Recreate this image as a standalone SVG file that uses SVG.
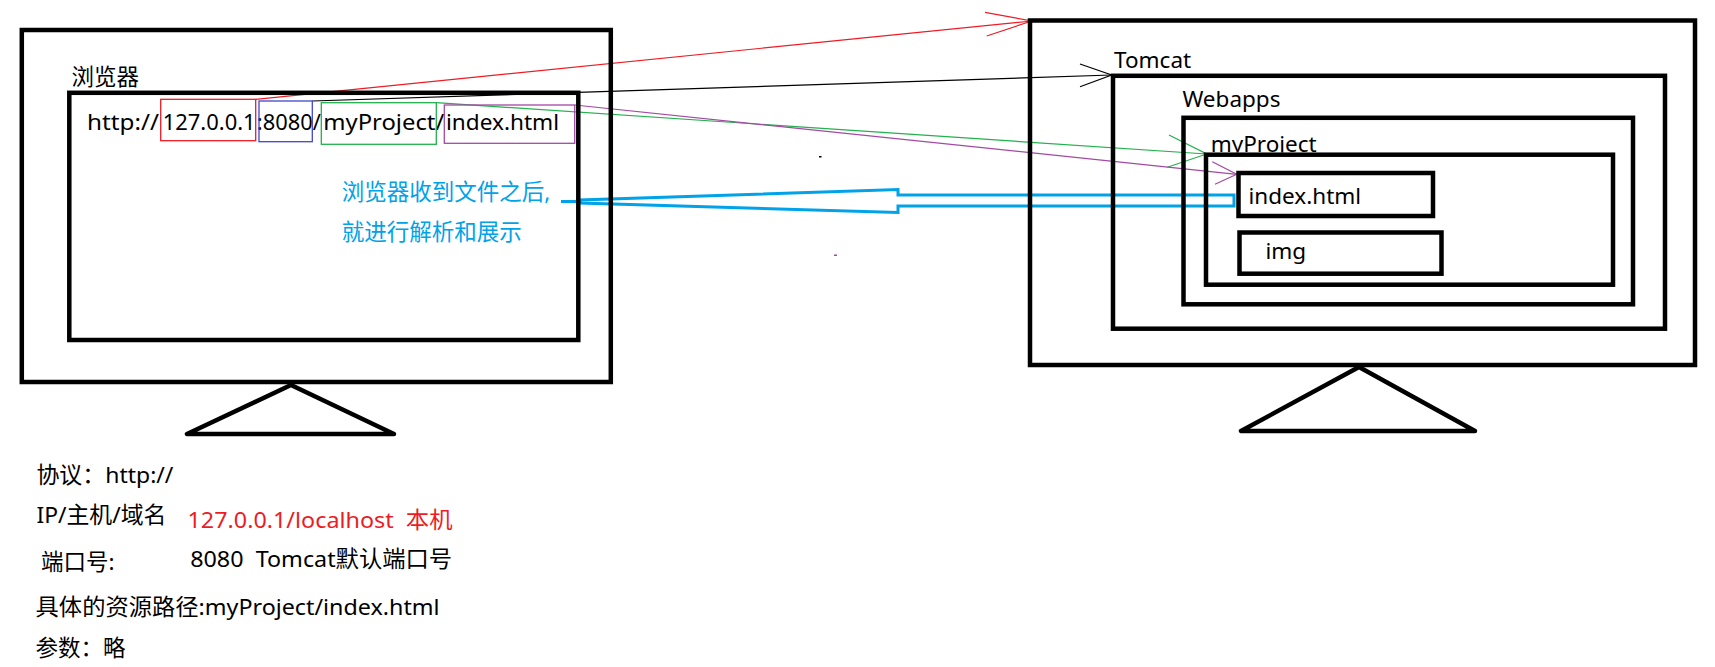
<svg xmlns="http://www.w3.org/2000/svg" width="1715" height="667" viewBox="0 0 1715 667">
<style>
.box{fill:none;stroke:#000;stroke-width:4.5}
.stand{fill:none;stroke:#000;stroke-width:4.5;stroke-linejoin:round}
.ub{fill:none;stroke-width:1.3}
.ln{fill:none;stroke-width:1.2}
.t{font-family:"Noto Sans","Noto Sans CJK SC",sans-serif;font-size:22.5px;fill:#000;white-space:pre}
.u{font-family:"Noto Sans","Noto Sans CJK SC",sans-serif;font-size:22px;fill:#000}
.blue{fill:#00a2e8}
.red{fill:#ed1c24}
</style>
<defs>
<clipPath id="cpMy"><rect x="1200" y="120" width="200" height="32.5"/></clipPath>
</defs>
<rect width="1715" height="667" fill="#fff"/>
<g id="connectors">
<g id="c-red" stroke="#ed1c24" class="ln">
<line x1="255.7" y1="99.3" x2="1031.7" y2="21"/>
<polyline points="985,12.3 1031.7,21 986.7,36"/>
</g>
<g id="c-black" stroke="#000" class="ln">
<line x1="312.3" y1="101" x2="1111.7" y2="75"/>
<polyline points="1080,64 1111.7,75 1080,86.7"/>
</g>
<g id="c-green" stroke="#22b14c" class="ln">
<line x1="436.3" y1="102.7" x2="1206.7" y2="154"/>
<polyline points="1169,135 1206.7,154 1167.3,167.3"/>
</g>
<g id="c-purple" stroke="#a349a4" class="ln">
<line x1="574.7" y1="105" x2="1236.7" y2="174.3"/>
<polyline points="1212.3,161.7 1236.7,174.3 1215,184.3"/>
</g>
<g id="c-blue" fill="none" stroke="#00a2e8" stroke-width="3">
<polygon points="1234,195 898,195 898,189.5 580,200 580,203 898,212.5 898,206 1234,206"/>
<line x1="561" y1="201.5" x2="582" y2="201.5"/>
</g>
</g>
<g id="browser-monitor">
<rect class="box" x="21.8" y="30" width="589" height="352"/>
<polygon class="stand" points="291,385 187,434 394,434"/>
<text class="t" x="71.6" y="84.5">浏览器</text>
</g>
<g id="browser-window">
<rect class="box" x="69.3" y="92.8" width="509" height="247.2"/>
<text class="u" y="129.5"><tspan x="87" textLength="72" lengthAdjust="spacingAndGlyphs">http://</tspan><tspan x="162.7" textLength="93" lengthAdjust="spacingAndGlyphs">127.0.0.1</tspan><tspan x="256.8" textLength="64" lengthAdjust="spacingAndGlyphs">:8080/</tspan><tspan x="323.3" textLength="121" lengthAdjust="spacingAndGlyphs">myProject/</tspan><tspan x="446" textLength="113" lengthAdjust="spacingAndGlyphs">index.html</tspan></text>
<rect class="ub" stroke="#ed1c24" x="160.7" y="99.3" width="95" height="41.4"/>
<rect class="ub" stroke="#3f48cc" x="259" y="101" width="53.3" height="40.7"/>
<rect class="ub" stroke="#22b14c" x="321.3" y="102.7" width="115" height="41.6"/>
<rect class="ub" stroke="#a349a4" x="444.3" y="105" width="130.4" height="38.3"/>
</g>
<g id="note">
<text class="t blue" x="341.8" y="199.5">浏览器收到文件之后,</text>
<text class="t blue" x="341.8" y="239.5">就进行解析和展示</text>
</g>
<g id="server-monitor">
<rect class="box" x="1030" y="20.5" width="665" height="344.5"/>
<polygon class="stand" points="1359,367 1241,431 1475,431"/>
</g>
<g id="tomcat">
<text class="t" x="1114" y="68.3">Tomcat</text>
<rect class="box" x="1113" y="75.8" width="552" height="252.9"/>
</g>
<g id="webapps">
<text class="t" x="1182.4" y="107.3">Webapps</text>
<rect class="box" x="1183.5" y="117.8" width="449.5" height="186.5"/>
</g>
<g id="myProject">
<text class="t" x="1210.7" y="151.7" clip-path="url(#cpMy)">myProject</text>
<rect class="box" x="1206" y="154.7" width="407" height="130"/>
</g>
<g id="index-html">
<rect class="box" x="1238.5" y="173" width="194.5" height="43"/>
<text class="t" x="1248.5" y="204">index.html</text>
</g>
<g id="img">
<rect class="box" x="1239.5" y="232.5" width="202" height="41.2"/>
<text class="t" x="1265.4" y="259.3">img</text>
</g>
<g id="specks">
<rect x="819" y="156" width="2.5" height="1.5" fill="#000"/>
<rect x="834" y="254.5" width="3" height="1.5" fill="#a349a4"/>
</g>
<g id="legend">
<text class="t" x="36.4" y="483" textLength="137" lengthAdjust="spacingAndGlyphs">协议：http://</text>
<text class="t" x="36.4" y="523" textLength="130" lengthAdjust="spacingAndGlyphs">IP/主机/域名</text>
<text class="t red" x="187.5" y="528" textLength="265" lengthAdjust="spacingAndGlyphs">127.0.0.1/localhost  本机</text>
<text class="t" x="41" y="569.5">端口号:</text>
<text class="t" x="190.2" y="566.5" textLength="262" lengthAdjust="spacingAndGlyphs">8080  Tomcat默认端口号</text>
<text class="t" x="35.6" y="615" textLength="404" lengthAdjust="spacingAndGlyphs">具体的资源路径:myProject/index.html</text>
<text class="t" x="35.6" y="656">参数：略</text>
</g>
</svg>
